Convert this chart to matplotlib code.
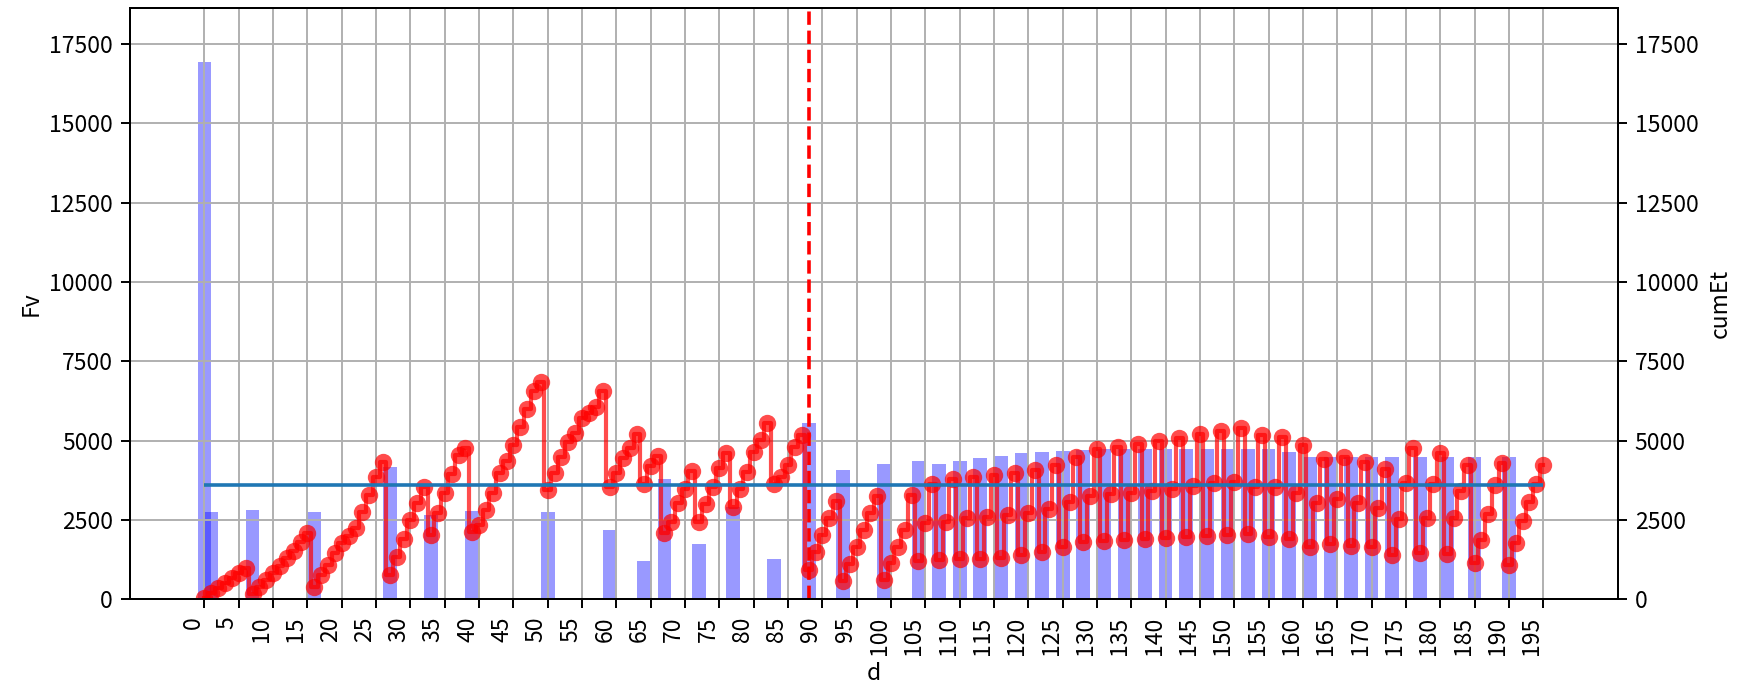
import matplotlib
matplotlib.use("Agg")
import matplotlib.pyplot as plt
import numpy as np

# day index 0..195
days = np.arange(196)

# irrigation days and volumes (Fv); zero on every other day
fv_days = [0, 1, 7, 16, 27, 33, 39, 50, 59, 64, 67, 72, 77, 83, 88, 93, 99,
           104, 107, 110, 113, 116, 119, 122, 125, 128, 131, 134, 137, 140,
           143, 146, 149, 152, 155, 158, 161, 164, 167, 170, 173, 177, 181,
           185, 190]
fv_vals = [16933, 2760, 2810, 2760, 4160, 2657, 2783, 2751, 2184, 1202, 3791,
           1743, 2918, 1270, 5566, 4075, 4264,
           4359, 4264, 4359, 4453, 4516, 4610, 4643, 4684, 4706, 4727, 4740,
           4740, 4750, 4750, 4740, 4740, 4740, 4740, 4653, 4495, 4495, 4495,
           4495, 4495, 4495, 4500, 4500, 4500]

# cumulative ET, one value per day
cum_et = [
    30, 190, 350, 510, 660, 820, 980,
    160, 380, 600, 830, 1060, 1290, 1530, 1800, 2080,
    400, 770, 1080, 1450, 1770, 2000, 2240, 2760, 3290, 3860, 4340,
    770, 1340, 1890, 2500, 3030, 3550,
    2030, 2710, 3340, 3950, 4550, 4760,
    2130, 2340, 2810, 3360, 3970, 4370, 4860, 5420, 5990, 6570, 6860,
    3450, 3990, 4490, 4970, 5230, 5700, 5860, 6070, 6570,
    3550, 3970, 4440, 4760, 5210,
    3630, 4200, 4520,
    2080, 2450, 3030, 3480, 4040,
    2450, 3000, 3550, 4130, 4620,
    2920, 3470, 4020, 4650, 5020, 5550,
    3630, 3860, 4230, 4790, 5180,
    920, 1500, 2030, 2550, 3110,
    570, 1110, 1660, 2180, 2710, 3260,
    600, 1130, 1660, 2180, 3300,
    1200, 2400, 3630,
    1240, 2450, 3790,
    1260, 2550, 3860,
    1280, 2580, 3920,
    1300, 2660, 3970,
    1400, 2710, 4075,
    1500, 2840, 4230,
    1660, 3080, 4490,
    1816, 3260, 4740,
    1840, 3310, 4810,
    1860, 3350, 4894,
    1890, 3420, 4995,
    1922, 3480, 5074,
    1960, 3560, 5220,
    2010, 3650, 5310,
    2026, 3690, 5389,
    2048, 3550, 5178,
    1974, 3550, 5115,
    1895, 3340, 4863,
    1659, 3025, 4412,
    1743, 3150, 4485,
    1680, 3045, 4327,
    1659, 2870, 4097,
    1396, 2521, 3675, 4758,
    1449, 2553, 3634, 4601,
    1428, 2550, 3400, 4230,
    1154, 1870, 2700, 3600, 4280,
    1081, 1765, 2460, 3060, 3620, 4230,
]

threshold = 3600
event_day = 88

plt.rcParams["font.family"] = ["Noto Sans CJK JP", "DejaVu Sans"]
plt.rcParams["font.size"] = 16.5

fv = np.zeros(len(days))
fv[fv_days] = fv_vals

fig = plt.figure(figsize=(17.39, 6.84), dpi=100)
ax1 = fig.add_axes([0.07476, 0.12383, 0.85549, 0.86404])

ax1.bar(days, fv, width=2, color="blue", alpha=0.4)
ax1.axvline(event_day, color="red", ls="--", lw=2.6)
ax1.grid(True, lw=1.4, color="#b0b0b0")
ax1.set_ylim(0, fv.max() * 1.1)
ax1.set_xticks(np.arange(0, 200, 5))
ax1.set_yticks(np.arange(0, 17501, 2500))
ax1.set_xlabel("d", labelpad=5)
ax1.set_ylabel("Fv", labelpad=5)
plt.setp(ax1.get_xticklabels(), rotation=90, ha="right")

ax2 = ax1.twinx()
ax2.plot(days, cum_et, color="red", alpha=0.7, lw=3, marker="o", ms=12.5,
         mew=0, drawstyle="steps-mid")
ax2.hlines(threshold, days[0], days[-1], color="tab:blue", lw=2.6)
ax2.set_ylim(ax1.get_ylim())
ax2.set_yticks(np.arange(0, 17501, 2500))
ax2.set_ylabel("cumEt", labelpad=7)

for ax in (ax1, ax2):
    ax.tick_params(length=6.3, width=1.4, pad=6)
    for sp in ax.spines.values():
        sp.set_linewidth(1.4)

fig.savefig("out.png", dpi=100)
